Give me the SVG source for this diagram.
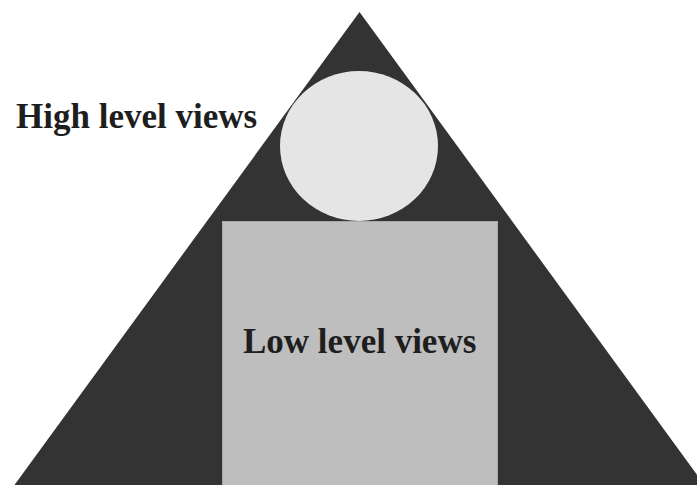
<svg xmlns="http://www.w3.org/2000/svg" width="697" height="485" viewBox="0 0 697 485">
<style>
.lbl{font-family:"Liberation Serif","Times New Roman",serif;font-weight:bold;font-size:35px;fill:#1e1e1e}
</style>
<rect width="697" height="485" fill="#ffffff"/>
<g id="pyramid"><polygon points="359.5,12 13,487 706,487" fill="#333333"/></g>
<g id="low"><rect x="222.5" y="221.5" width="275" height="266" fill="#bebebe" stroke="#a8a8a8" stroke-width="1"/>
<text class="lbl" x="243" y="353">Low level views</text></g>
<g id="high"><ellipse cx="359" cy="146" rx="79" ry="75" fill="#e5e5e5"/>
<text class="lbl" x="16" y="128">High level views</text></g>
<g id="connectors"/>
</svg>
